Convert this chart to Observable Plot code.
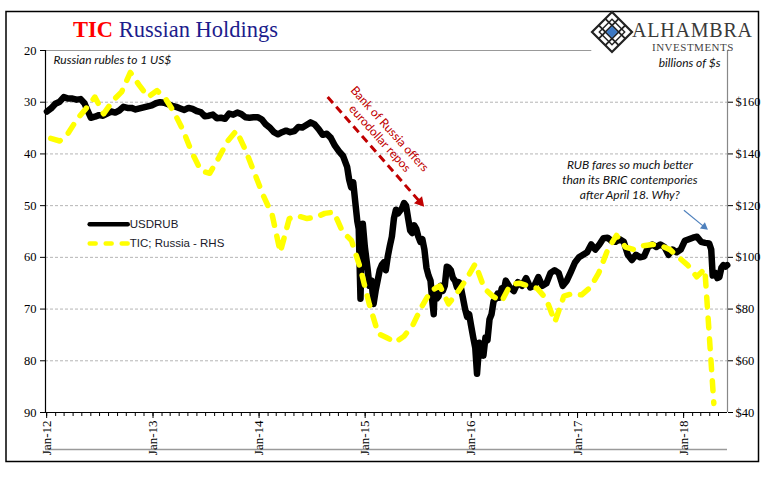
<!DOCTYPE html>
<html>
<head>
<meta charset="utf-8">
<script src="https://cdn.jsdelivr.net/npm/d3@7"></script>
<script src="https://cdn.jsdelivr.net/npm/@observablehq/plot@0.6"></script>
<style>
html,body{margin:0;padding:0;background:#fff;}
#chart svg{display:block;}
</style>
</head>
<body>
<div id="chart"></div>
<script>
// ---------- DATA ----------
const usdrubDates = [
"2012-01-02","2012-01-16","2012-01-31","2012-02-15","2012-02-29","2012-03-15","2012-03-30","2012-04-13","2012-04-27","2012-05-10","2012-05-20","2012-06-01","2012-06-15","2012-06-29","2012-07-13","2012-07-27","2012-08-10","2012-08-24","2012-09-07","2012-09-21","2012-10-05","2012-10-19","2012-11-02","2012-11-16","2012-11-30","2012-12-14","2012-12-28",
"2013-01-11","2013-01-25","2013-02-08","2013-02-22","2013-03-08","2013-03-22","2013-04-05","2013-04-19","2013-05-03","2013-05-17","2013-05-31","2013-06-14","2013-06-28","2013-07-12","2013-07-26","2013-08-09","2013-08-23","2013-09-06","2013-09-20","2013-10-04","2013-10-18","2013-11-01","2013-11-15","2013-11-29","2013-12-13","2013-12-27",
"2014-01-10","2014-01-24","2014-02-07","2014-02-21","2014-03-07","2014-03-21","2014-04-04","2014-04-18","2014-05-02","2014-05-16","2014-05-30","2014-06-13","2014-06-27","2014-07-11","2014-07-25","2014-08-08","2014-08-22","2014-09-05","2014-09-19","2014-10-03","2014-10-17","2014-10-31","2014-11-07","2014-11-14","2014-11-21","2014-11-28","2014-12-05","2014-12-10","2014-12-16","2014-12-19","2014-12-24","2014-12-31",
"2015-01-09","2015-01-16","2015-01-23","2015-01-30","2015-02-06","2015-02-13","2015-02-20","2015-02-27","2015-03-06","2015-03-13","2015-03-20","2015-03-27","2015-04-03","2015-04-10","2015-04-17","2015-04-24","2015-05-01","2015-05-08","2015-05-15","2015-05-22","2015-05-29","2015-06-05","2015-06-12","2015-06-19","2015-06-26","2015-07-03","2015-07-10","2015-07-17","2015-07-24","2015-07-31","2015-08-07","2015-08-14","2015-08-21","2015-08-25","2015-08-28","2015-09-04","2015-09-11","2015-09-18","2015-09-25","2015-10-02","2015-10-09","2015-10-16","2015-10-23","2015-10-30","2015-11-06","2015-11-13","2015-11-20","2015-11-27","2015-12-04","2015-12-11","2015-12-18","2015-12-25","2015-12-31",
"2016-01-08","2016-01-15","2016-01-21","2016-01-29","2016-02-05","2016-02-12","2016-02-19","2016-02-26","2016-03-04","2016-03-11","2016-03-18","2016-03-25","2016-04-01","2016-04-08","2016-04-15","2016-04-22","2016-04-29","2016-05-13","2016-05-27","2016-06-10","2016-06-24","2016-07-08","2016-07-22","2016-08-05","2016-08-19","2016-09-02","2016-09-16","2016-09-30","2016-10-14","2016-10-28","2016-11-11","2016-11-25","2016-12-09","2016-12-23",
"2017-01-06","2017-01-20","2017-02-03","2017-02-17","2017-03-03","2017-03-17","2017-03-31","2017-04-14","2017-04-28","2017-05-12","2017-05-26","2017-06-09","2017-06-23","2017-07-07","2017-07-21","2017-08-04","2017-08-18","2017-09-01","2017-09-15","2017-09-29","2017-10-13","2017-10-27","2017-11-10","2017-11-24","2017-12-08","2017-12-22",
"2018-01-05","2018-01-19","2018-02-02","2018-02-16","2018-03-02","2018-03-16","2018-03-30","2018-04-06","2018-04-11","2018-04-20","2018-04-27","2018-05-04","2018-05-11","2018-05-18","2018-05-25","2018-05-31"
];
const usdrubValues = [
31.8,31.2,30.3,29.9,29.0,29.3,29.3,29.5,29.4,30.2,31.5,33.0,32.8,32.5,32.6,32.2,31.8,32.0,31.6,30.9,31.1,31.1,31.4,31.2,31.0,30.8,30.6,
30.2,30.0,30.1,30.4,30.7,30.9,31.2,31.5,31.1,31.3,31.7,31.9,32.7,32.6,32.4,33.1,33.0,33.2,32.2,32.4,32.0,32.3,32.9,33.0,32.9,32.9,
33.3,34.3,34.9,35.8,36.2,35.8,35.5,35.8,35.6,34.8,34.9,34.4,33.9,34.3,35.2,36.3,36.1,36.9,38.4,39.5,40.4,42.5,45.0,46.5,45.5,49.3,53.0,54.5,68.0,60.5,53.5,58.0,
62.0,65.5,64.5,69.0,66.5,64.5,62.5,61.5,61.0,62.5,59.8,57.8,56.0,52.5,50.8,51.5,51.0,50.5,49.5,50.0,52.5,54.8,55.3,53.8,54.5,56.0,57.0,56.5,58.5,62.0,63.5,64.5,69.0,71.0,66.5,68.0,67.5,65.5,66.5,65.5,61.8,62.0,62.5,64.0,64.5,65.8,64.8,66.0,68.0,70.0,71.5,71.0,73.0,
75.5,77.5,82.5,76.5,77.0,79.0,75.5,76.0,72.0,71.0,68.5,68.0,67.0,67.8,66.0,66.5,64.5,65.8,66.5,64.8,65.5,64.0,65.8,65.5,63.8,65.5,65.0,63.0,62.5,63.0,65.5,64.5,62.8,61.0,
60.0,59.5,59.0,57.5,58.5,57.5,56.3,56.2,56.8,57.0,56.5,57.0,59.5,60.5,59.5,60.0,59.8,58.0,57.5,58.0,57.5,58.0,59.5,58.5,59.0,58.5,
56.8,56.5,56.2,56.0,57.0,57.2,57.3,58.5,63.5,63.0,64.0,63.8,62.0,61.5,61.8,61.5
];
const ticMonths = [
"2012-01","2012-02","2012-03","2012-04","2012-05","2012-06","2012-07","2012-08","2012-09","2012-10","2012-11","2012-12",
"2013-01","2013-02","2013-03","2013-04","2013-05","2013-06","2013-07","2013-08","2013-09","2013-10","2013-11","2013-12",
"2014-01","2014-02","2014-03","2014-04","2014-05","2014-06","2014-07","2014-08","2014-09","2014-10","2014-11","2014-12",
"2015-01","2015-02","2015-03","2015-04","2015-05","2015-06","2015-07","2015-08","2015-09","2015-10","2015-11","2015-12",
"2016-01","2016-02","2016-03","2016-04","2016-05","2016-06","2016-07","2016-08","2016-09","2016-10","2016-11","2016-12",
"2017-01","2017-02","2017-03","2017-04","2017-05","2017-06","2017-07","2017-08","2017-09","2017-10","2017-11","2017-12",
"2018-01","2018-02","2018-03","2018-04"
];
const ticValues = [
146,145,148,153.5,157.5,162,155.5,160.5,164,171.5,166.5,162,
164.5,161,156,149,140.5,133.5,132.5,138.5,145,149,141.5,133,
124,116.5,102,115,116,115,115.5,117,117.5,110,106.5,96,
82,70.5,69,67.2,69.5,74,81,87,89,82,86.5,91.5,
97.5,88,85,83,89.5,90,89,88,84,75,85,86,
85.5,88.5,94,103,108.5,104,103,104.5,105,104.5,103,100,
97,92.5,95.5,43.5
];
const seriesNames = ["USDRUB", "TIC; Russia - RHS"];
const leftTicks = [20,30,40,50,60,70,80,90];
const gridValues = [30,40,50,60,70,80];
const rightTickValues = [160,140,120,100,80,60,40];
const rightTickLabels = ["$160","$140","$120","$100","$80","$60","$40"];
const yearTickLabels = ["Jan-12","Jan-13","Jan-14","Jan-15","Jan-16","Jan-17","Jan-18"];
const titleParts = ["TIC", " Russian Holdings"];
const leftUnit = "Russian rubles to 1 US$";
const rightUnit = "billions of $s";
const redNote = ["Bank of Russia offers", "eurodollar repos"];
const rubNote = "RUB fares so much better\nthan its BRIC contempories\nafter April 18. Why?";

// ---------- BUILD ----------
const parseDay = d3.utcParse("%Y-%m-%d");
const rub = usdrubDates.map((d, i) => ({date: parseDay(d), value: usdrubValues[i]}));
const tic = ticMonths.map((m, i) => ({date: parseDay(m + "-15"), value: ticValues[i]}));
const toLeft = v => (220 - v) / 2;   // RHS billions -> LHS scale position
const D = (y, m, d) => new Date(Date.UTC(y, m - 1, d));
const serif = "'Liberation Serif', 'Times New Roman', serif";
const sans = "Lato, 'Open Sans', sans-serif";
const arial = "'Liberation Sans', Arial, sans-serif";
const xStart = D(2011, 12, 28), xEnd = D(2018, 6, 1);
const monthTicks = d3.utcMonth.range(D(2012, 1, 1), D(2018, 6, 1));
const yearTicks = yearTickLabels.map((_, i) => D(2012 + i, 1, 1));

const chart = Plot.plot({
  width: 769, height: 481,
  marginLeft: 45, marginRight: 42, marginTop: 50, marginBottom: 69,
  style: {fontFamily: serif, fontSize: "12px", background: "#fff", color: "#000", overflow: "visible"},
  x: {type: "utc", domain: [xStart, xEnd]},
  y: {domain: [20, 90], reverse: true},
  marks: [
    Plot.ruleY(gridValues, {stroke: "#b5b5b5", strokeDasharray: "3,2", strokeWidth: 1}),
    Plot.ruleY([20], {x1: xStart, x2: D(2017, 2, 19), stroke: "#999"}),
    Plot.ruleX([xEnd], {stroke: "#888", strokeWidth: 1.2}),
    Plot.ruleY([90], {dy: 37, stroke: "#9a9a9a", strokeWidth: 1.6}),
    Plot.axisY({ticks: leftTicks, tickSize: 5, tickPadding: 4, label: null, fontSize: 12.5}),
    Plot.axisY({anchor: "right", ticks: rightTickValues.map(toLeft),
      tickFormat: d => rightTickLabels[rightTickValues.indexOf(220 - 2 * d)],
      tickSize: 5, tickPadding: 3, label: null, fontSize: 12.5}),
    Plot.axisX({ticks: monthTicks, tickSize: 4, tickFormat: () => "", label: null}),
    Plot.axisX({ticks: yearTicks, tickSize: 6, tickPadding: 2, tickRotate: -90, fontSize: 13,
      tickFormat: d => yearTickLabels[d.getUTCFullYear() - 2012], label: null}),
    Plot.ruleX([xStart], {stroke: "#000", strokeWidth: 1.2}),
    Plot.ruleY([90], {stroke: "#000", strokeWidth: 1.2}),

    // series
    Plot.line(rub, {x: "date", y: "value", stroke: "#000", strokeWidth: 6.5,
      strokeLinejoin: "round", strokeLinecap: "round"}),
    Plot.line(tic, {x: "date", y: d => toLeft(d.value), stroke: "#ffff00", strokeWidth: 5.5,
      strokeDasharray: "10,11", strokeLinecap: "round", strokeLinejoin: "round"}),

    // legend
    Plot.link([{y: 53.6}], {x1: D(2012, 5, 28), x2: D(2012, 10, 6), y1: "y", y2: "y",
      stroke: "#000", strokeWidth: 4.5, strokeLinecap: "round"}),
    Plot.link([{y: 57.3}], {x1: D(2012, 5, 28), x2: D(2012, 10, 6), y1: "y", y2: "y",
      stroke: "#ffff00", strokeWidth: 4.5, strokeDasharray: "6,10", strokeLinecap: "round"}),
    Plot.text(seriesNames.map((s, i) => ({s, y: [53.6, 57.3][i]})), {x: D(2012, 10, 13), y: "y", text: "s",
      textAnchor: "start", fontFamily: arial, fontSize: 11.5, fill: "#1a1a2a"}),

    // unit labels
    Plot.text([leftUnit], {frameAnchor: "top-left", dx: 8, dy: 5, fontStyle: "italic",
      fontFamily: sans, fontSize: 12, fill: "#111"}),
    Plot.text([rightUnit], {frameAnchor: "top-right", dx: -7, dy: 8, fontStyle: "italic",
      fontFamily: sans, fontSize: 12, fill: "#111"}),

    // red annotation
    Plot.link([{}], {x1: D(2014, 8, 25), y1: 29.0, x2: D(2015, 7, 9), y2: 49.3,
      stroke: "#c00000", strokeWidth: 3, strokeDasharray: "8,5"}),
    Plot.dot([{}], {x: D(2015, 7, 9), y: 49.3, symbol: "triangle", r: 4, fill: "#c00000",
      stroke: "none", rotate: 138.7}),
    Plot.text([redNote[0]], {x: D(2015, 3, 26), y: 35.2, rotate: 48, fontFamily: sans,
      fontSize: 12, fill: "#c00000"}),
    Plot.text([redNote[1]], {x: D(2015, 2, 20), y: 37.0, rotate: 48, fontFamily: sans,
      fontSize: 12, fill: "#c00000"}),

    // blue annotation
    Plot.text([rubNote], {x: D(2017, 6, 30), y: 44.9, lineHeight: 1.25, fontStyle: "italic",
      fontFamily: sans, fontSize: 12, fill: "#111"}),
    Plot.link([{}], {x1: D(2018, 1, 2), y1: 50.9, x2: D(2018, 3, 13), y2: 54.1,
      stroke: "#4f81bd", strokeWidth: 1.2}),
    Plot.dot([{}], {x: D(2018, 3, 13), y: 54.1, symbol: "triangle", r: 3, fill: "#4f81bd",
      stroke: "none", rotate: 128})
  ]
});

// ---------- DECORATION (title, logo, border) ----------
const svg = d3.select(chart);
svg.append("rect").attr("x", 6).attr("y", 11.5).attr("width", 752.5).attr("height", 450)
  .attr("fill", "none").attr("stroke", "#000").attr("stroke-width", 1.5);

const title = svg.append("text").attr("x", 73).attr("y", 37).attr("text-anchor", "start")
  .attr("font-family", serif).attr("font-size", 22.5);
title.append("tspan").attr("fill", "#ff0000").attr("font-weight", "bold").text(titleParts[0]);
title.append("tspan").attr("fill", "#1c1c8c").text(titleParts[1]);

const logo = svg.append("g").attr("transform", "translate(612,32)");
logo.append("path").attr("d", "M0,-20L20,0L0,20L-20,0Z").attr("fill", "none")
  .attr("stroke", "#222").attr("stroke-width", 2.2);
const inner = logo.append("g").attr("transform", "rotate(45)");
[-4.7, 4.7].forEach(v => {
  inner.append("line").attr("x1", v).attr("x2", v).attr("y1", -14).attr("y2", 14)
    .attr("stroke", "#222").attr("stroke-width", 1.8);
  inner.append("line").attr("y1", v).attr("y2", v).attr("x1", -14).attr("x2", 14)
    .attr("stroke", "#222").attr("stroke-width", 1.8);
});
inner.append("rect").attr("x", -9).attr("y", -9).attr("width", 18).attr("height", 18)
  .attr("fill", "none").attr("stroke", "#222").attr("stroke-width", 1.4);
inner.append("rect").attr("x", -4).attr("y", -4).attr("width", 8).attr("height", 8)
  .attr("fill", "#3c78c3");
svg.append("text").attr("x", 632).attr("y", 37).attr("text-anchor", "start").attr("font-family", serif)
  .attr("font-size", 20).attr("letter-spacing", 0.8).attr("fill", "#3a3a3a").text("ALHAMBRA");
svg.append("text").attr("x", 652).attr("y", 51).attr("text-anchor", "start").attr("font-family", serif)
  .attr("font-size", 11).attr("letter-spacing", 0.5).attr("fill", "#444").text("INVESTMENTS");

document.getElementById("chart").appendChild(chart);
</script>
</body>
</html>
